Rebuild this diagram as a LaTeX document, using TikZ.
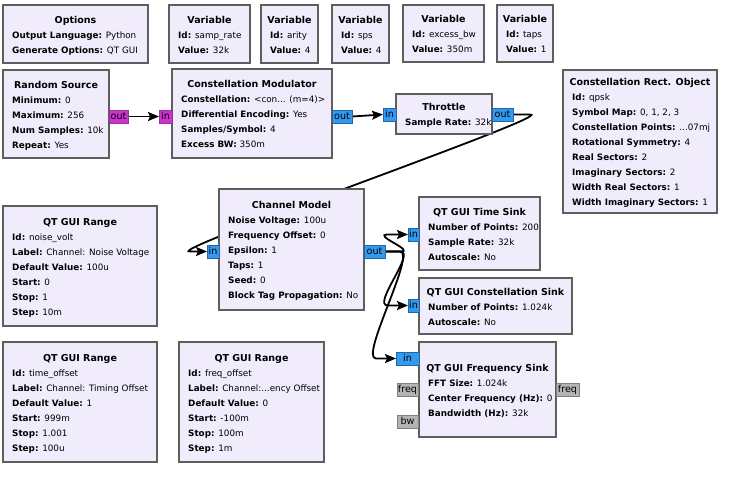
\documentclass[tikz,border=0pt]{standalone}
\usepackage{fontspec}
\setmainfont{DejaVu Sans}
\usetikzlibrary{arrows.meta,calc}
\pgfdeclarelayer{bg}
\pgfdeclarelayer{conns}
\pgfsetlayers{bg,conns,main}
\definecolor{blkfill}{HTML}{F0ECFC}
\definecolor{blkdraw}{HTML}{5E5E5E}
\definecolor{pbyte}{HTML}{CC33CC}
\definecolor{pbytedraw}{HTML}{993399}
\definecolor{pcplx}{HTML}{3399EE}
\definecolor{pcplxdraw}{HTML}{2266AA}
\definecolor{pmsg}{HTML}{B4B4B4}
\definecolor{pmsgdraw}{HTML}{808080}
\newcommand\tdots{...}
\tikzset{
  blk/.style={draw=blkdraw, fill=blkfill, line width=2pt, inner sep=0pt, outer sep=0pt},
  blktitle/.style={font=\fontsize{9.5}{11}\selectfont\bfseries, inner sep=0pt, anchor=base},
  blktext/.style={font=\fontsize{8.8}{10}\selectfont, inner sep=0pt, anchor=base west},
  portbox/.style={line width=1pt, inner sep=0pt, outer sep=0pt},
  porttext/.style={font=\fontsize{9.6}{10}\selectfont, inner sep=0pt, anchor=base},
  conn/.style={line width=1.8pt, -{Stealth[length=11pt,width=9pt,inset=2pt]}},
}
\newcommand\grcblk[8]{%
  \node[blk, minimum width={#4-#2}, minimum height={#5-#3}, anchor=north west] (#1) at (#2,#3) {};
  \pgfmathsetmacro\grctop{(#3+#5)/2-#6*7.5+1}
  \node[blktitle] (#1-t) at ({(#2+#4)/2},{\grctop+3.3}) {#7};
  \foreach \k/\v [count=\i] in {#8} {
    \node[blktext] (#1-l\i) at ({#2+9},{\grctop+15*\i+3}) {\textbf{\k:} \v};
  }
}
\newcommand\grcport[8]{%
  \node[portbox, fill=#6, draw=#7, minimum width={#4-#2}, minimum height={#5-#3}, anchor=north west] (#1) at (#2,#3) {};
  \node[porttext] (#1-t) at ($(#1.center)+(0,3.2)$) {#8};
}
\begin{document}
\begin{tikzpicture}[x=1pt,y=-1pt]
\begin{pgfonlayer}{bg}
\fill[white] (0,0) rectangle (747,482);
\end{pgfonlayer}
\useasboundingbox (0,0) rectangle (747,482);

\grcblk{opt}{3}{5}{148}{63}{2}{Options}{Output Language/Python, Generate Options/QT GUI}
\grcblk{v1}{169}{5}{250}{63}{2}{Variable}{Id/samp\_rate, Value/32k}
\grcblk{v2}{261}{5}{318}{63}{2}{Variable}{Id/arity, Value/4}
\grcblk{v3}{332}{5}{389}{63}{2}{Variable}{Id/sps, Value/4}
\grcblk{v4}{403}{5}{484}{62}{2}{Variable}{Id/excess\_bw, Value/350m}
\grcblk{v5}{497}{5}{553}{62}{2}{Variable}{Id/taps, Value/1}
\grcblk{rs}{3}{70}{109}{158}{4}{Random Source}{Minimum/0, Maximum/256, Num Samples/10k, Repeat/Yes}
\grcblk{cmod}{172}{69}{332}{158}{4}{Constellation Modulator}{Constellation/{<con\tdots{} (m=4)>}, Differential Encoding/Yes, {Samples/Symbol}/4, Excess BW/350m}
\grcblk{thr}{396}{94}{492}{134}{1}{Throttle}{Sample Rate/32k}
\grcblk{cro}{563}{70}{717}{213}{8}{Constellation Rect. Object}{Id/qpsk, Symbol Map/{0, 1, 2, 3}, Constellation Points/{\tdots07mj}, Rotational Symmetry/4, Real Sectors/2, Imaginary Sectors/2, Width Real Sectors/1, Width Imaginary Sectors/1}
\grcblk{chm}{219}{189}{364}{310}{6}{Channel Model}{Noise Voltage/100u, Frequency Offset/0, Epsilon/1, Taps/1, Seed/0, Block Tag Propagation/No}
\grcblk{r1}{3}{206}{157}{326}{6}{QT GUI Range}{Id/noise\_volt, Label/{Channel: Noise Voltage}, Default Value/100u, Start/0, Stop/1, Step/10m}
\grcblk{ts}{419}{197}{540}{270}{3}{QT GUI Time Sink}{Number of Points/200, Sample Rate/32k, Autoscale/No}
\grcblk{cs}{419}{278}{572}{334}{2}{QT GUI Constellation Sink}{Number of Points/1.024k, Autoscale/No}
\grcblk{fs}{419}{342}{556}{437}{3}{QT GUI Frequency Sink}{FFT Size/1.024k, Center Frequency (Hz)/0, Bandwidth (Hz)/32k}
\grcblk{r2}{3}{342}{157}{462}{6}{QT GUI Range}{Id/time\_offset, Label/{Channel: Timing Offset}, Default Value/1, Start/999m, Stop/1.001, Step/100u}
\grcblk{r3}{179}{342}{324}{462}{6}{QT GUI Range}{Id/freq\_offset, Label/{Channel:\tdots{}ency Offset}, Default Value/0, Start/-100m, Stop/100m, Step/1m}

\grcport{rsout}{109}{110}{128}{123}{pbyte}{pbytedraw}{out}
\grcport{cmin}{159}{110}{172}{123}{pbyte}{pbytedraw}{in}
\grcport{cmout}{332}{110}{352}{123}{pcplx}{pcplxdraw}{out}
\grcport{thrin}{383}{108}{396}{121}{pcplx}{pcplxdraw}{in}
\grcport{throut}{492}{108}{513}{121}{pcplx}{pcplxdraw}{out}
\grcport{chmin}{207}{245}{219}{258}{pcplx}{pcplxdraw}{in}
\grcport{chmout}{364}{245}{385}{258}{pcplx}{pcplxdraw}{out}
\grcport{tsin}{408}{228}{419}{241}{pcplx}{pcplxdraw}{in}
\grcport{csin}{408}{299}{419}{312}{pcplx}{pcplxdraw}{in}
\grcport{fsin}{396}{352}{419}{365}{pcplx}{pcplxdraw}{in}
\grcport{fsfreq}{397}{383}{418}{396}{pmsg}{pmsgdraw}{freq}
\grcport{fsbw}{397}{415}{418}{428}{pmsg}{pmsgdraw}{bw}
\grcport{fsfreqo}{556}{383}{579}{396}{pmsg}{pmsgdraw}{freq}

\begin{pgfonlayer}{conns}
\draw[conn] (rsout.east) -- (cmin.west);
\draw[conn] (cmout.east) -- (thrin.west);
\draw[conn] (throut.east) -- ++(17,0) .. controls ($(throut.east)+(45,0)$) and ($(chmin.west)+(-45,0)$) .. ($(chmin.west)+(-17,0)$) -- (chmin.west);
\draw[conn] (chmout.east) -- ++(15,0) .. controls ($(chmout.east)+(32,0)$) and ($(tsin.west)+(-37,0)$) .. ($(tsin.west)+(-20,0)$) -- (tsin.west);
\draw[conn] (chmout.east) -- ++(15,0) .. controls ($(chmout.east)+(32,0)$) and ($(csin.west)+(-37,0)$) .. ($(csin.west)+(-20,0)$) -- (csin.west);
\draw[conn] (chmout.east) -- ++(15,0) .. controls ($(chmout.east)+(32,0)$) and ($(fsin.west)+(-37,0)$) .. ($(fsin.west)+(-20,0)$) -- (fsin.west);
\end{pgfonlayer}
\end{tikzpicture}
\end{document}
